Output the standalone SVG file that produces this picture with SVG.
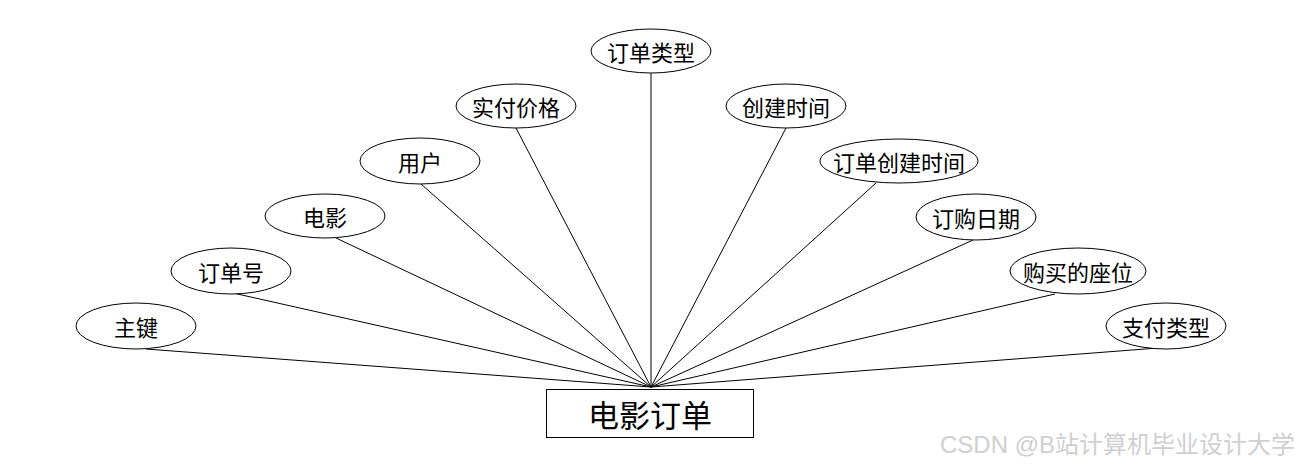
<svg xmlns="http://www.w3.org/2000/svg" width="1300" height="468" viewBox="0 0 1300 468">
<style>
.e{fill:#fff;stroke:#000;stroke-width:1}
.t{font-family:"Noto Sans CJK SC","Noto Sans",sans-serif;font-size:22px;fill:#000;text-anchor:middle;dominant-baseline:central}
.c line{stroke:#000;stroke-width:1}
</style>
<rect width="1300" height="468" fill="#fff"/>
<g class="c" id="connectors">
<line x1="146" y1="349" x2="651" y2="387"/>
<line x1="233" y1="293" x2="651" y2="387"/>
<line x1="336" y1="238" x2="651" y2="387"/>
<line x1="421" y1="184" x2="651" y2="387"/>
<line x1="516" y1="128" x2="651" y2="387"/>
<line x1="651" y1="73" x2="651" y2="387"/>
<line x1="786" y1="128" x2="651" y2="387"/>
<line x1="876" y1="183" x2="651" y2="387"/>
<line x1="973" y1="240" x2="651" y2="387"/>
<line x1="1055" y1="294" x2="651" y2="387"/>
<line x1="1158" y1="348" x2="651" y2="387"/>
</g>
<g id="n-main"><rect x="546.5" y="389.5" width="207" height="48" fill="#fff" stroke="#000"/><text class="t" x="650" y="413" style="font-size:31px">电影订单</text></g>
<g id="n1"><ellipse class="e" cx="651" cy="51" rx="60" ry="22"/><text class="t" x="651" y="51">订单类型</text></g>
<g id="n2"><ellipse class="e" cx="516" cy="106" rx="60" ry="22"/><text class="t" x="516" y="106">实付价格</text></g>
<g id="n3"><ellipse class="e" cx="786" cy="106" rx="60" ry="22"/><text class="t" x="786" y="106">创建时间</text></g>
<g id="n4"><ellipse class="e" cx="420" cy="161" rx="60" ry="23"/><text class="t" x="420" y="161">用户</text></g>
<g id="n5"><ellipse class="e" cx="899" cy="161" rx="79" ry="22"/><text class="t" x="899" y="161">订单创建时间</text></g>
<g id="n6"><ellipse class="e" cx="325" cy="216" rx="60" ry="22"/><text class="t" x="325" y="216">电影</text></g>
<g id="n7"><ellipse class="e" cx="976" cy="217" rx="60" ry="23"/><text class="t" x="976" y="217">订购日期</text></g>
<g id="n8"><ellipse class="e" cx="231" cy="271" rx="60" ry="23"/><text class="t" x="231" y="271">订单号</text></g>
<g id="n9"><ellipse class="e" cx="1078" cy="271" rx="68" ry="23"/><text class="t" x="1078" y="271">购买的座位</text></g>
<g id="n10"><ellipse class="e" cx="136" cy="326" rx="60" ry="23"/><text class="t" x="136" y="326">主键</text></g>
<g id="n11"><ellipse class="e" cx="1166" cy="326" rx="60" ry="23"/><text class="t" x="1166" y="326">支付类型</text></g>
<text x="1295" y="444" style="font-family:'Liberation Sans','Noto Sans CJK SC',sans-serif;font-size:24px;fill:#cfcfcf;text-anchor:end;dominant-baseline:central">CSDN @B站计算机毕业设计大学</text>
</svg>
